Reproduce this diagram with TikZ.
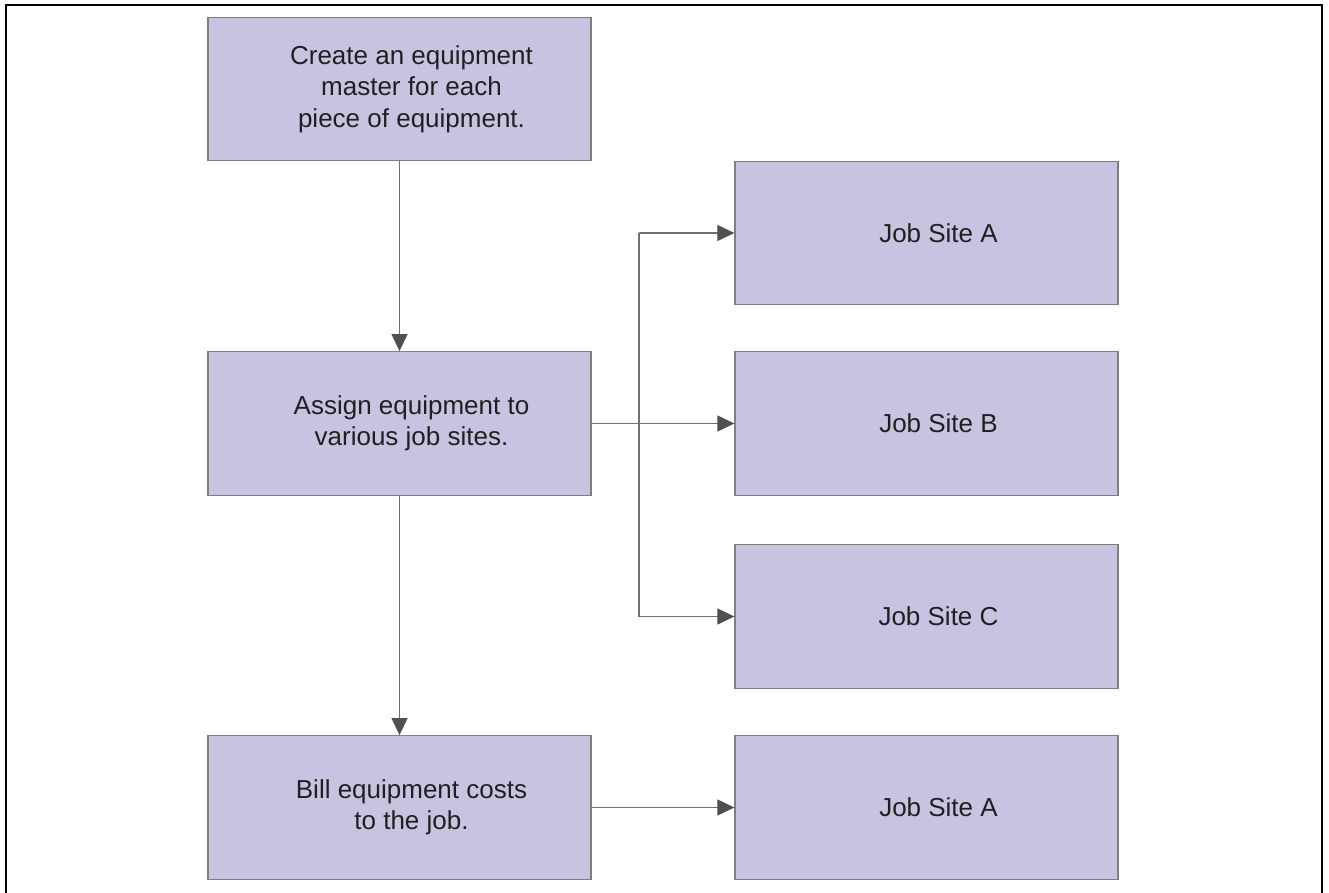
\documentclass[tikz,border=0pt]{standalone}
\usepackage{fontspec}
\setmainfont{Liberation Sans}
\usetikzlibrary{arrows.meta}
\definecolor{boxfill}{HTML}{C7C4E1}
\definecolor{boxline}{HTML}{7F7F80}
\definecolor{wire}{HTML}{707070}
\definecolor{tipgray}{HTML}{505050}
\definecolor{inkdark}{HTML}{231F20}
\tikzset{
  stepbox/.style={draw=boxline, line width=1.3pt, fill=boxfill, rectangle,
    minimum width=383pt, minimum height=143.5pt, inner sep=0pt},
  boxtext/.style={font=\fontsize{26}{31.5}\selectfont, text=inkdark, align=center, xshift=12pt},
  wireline/.style={draw=wire, line width=1.2pt},
  conn/.style={wireline, -{Triangle[length=17pt,width=16pt,color=tipgray]}},
}
\begin{document}
\begin{tikzpicture}[x=1pt,y=-1pt]
  \useasboundingbox (0,0) rectangle (1329,893);
  % open frame around the flow
  \draw[black, line width=2pt] (6,900) -- (6,5) -- (1322,5) -- (1322,900);

  % process steps
  \node[stepbox, label={[boxtext]center:Create an equipment\\master for each\\piece of equipment.}] (create) at (399.5,89) {};
  \node[stepbox, label={[boxtext]center:Assign equipment to\\various job sites.}] (assign) at (399.5,423.5) {};
  \node[stepbox, label={[boxtext]center:Bill equipment costs\\to the job.}] (bill) at (399.5,807.5) {};

  % job sites
  \node[stepbox, label={[boxtext]center:Job Site A}] (siteA) at (926.5,233) {};
  \node[stepbox, label={[boxtext]center:Job Site B}] (siteB) at (926.5,423.5) {};
  \node[stepbox, label={[boxtext]center:Job Site C}] (siteC) at (926.5,616.5) {};
  \node[stepbox, label={[boxtext]center:Job Site A}] (billA) at (926.5,807.5) {};

  % main flow
  \draw[conn] (create) -- (assign);
  \draw[conn] (assign) -- (bill);

  % distribution to the job sites
  \coordinate (splitTop) at (639,233);
  \coordinate (splitBot) at (639,616.5);
  \draw[wireline] (splitTop) -- (splitBot);
  \draw[conn] (splitTop) -- (siteA.west);
  \draw[conn] (assign.east) -- (siteB.west);
  \draw[conn] (splitBot) -- (siteC.west);

  % billing
  \draw[conn] (bill.east) -- (billA.west);
\end{tikzpicture}
\end{document}
